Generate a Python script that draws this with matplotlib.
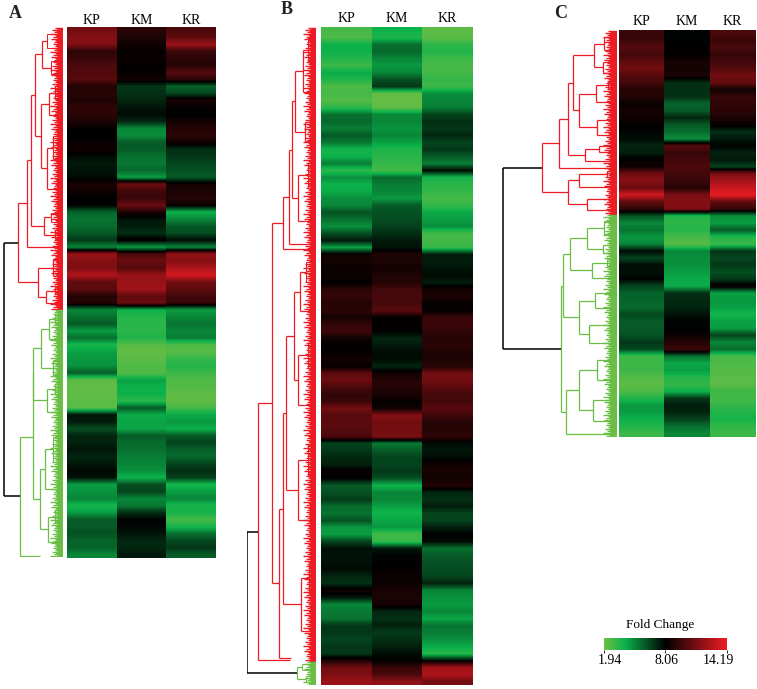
"""
Three fold change heatmaps (A, B, C) with their row dendrograms.
"""

import matplotlib
matplotlib.use('Agg')
import matplotlib.pyplot as plt
import numpy as np
from matplotlib.colors import LinearSegmentedColormap

W, H = 757, 689

SAMPLES = ['KP', 'KM', 'KR']
FC_MIN, FC_MID, FC_MAX = 1.94, 8.06, 14.19
KEY_LABELS = ['1.94', '8.06', '14.19']

RED = '#ed1c24'
GREEN = '#6abd45'

# fold change per row band, columns are KP, KM, KR
A_VALUES = [
    [11, 9.2, 10], [11.5, 8.8, 10.5], [11.3, 8.5, 12], [9.2, 8.2, 9.5], [9.5, 8.3, 9.2],
    [10, 8.2, 9], [10.2, 8.2, 10.3], [10.3, 8.6, 9.2], [9, 6.8, 5.8], [9.1, 7, 6.5],
    [8.8, 7.2, 8.7], [9.3, 7.6, 8.2], [9.2, 7.8, 8], [8.8, 7.2, 8.6], [8.2, 5, 9],
    [8, 4.8, 9.2], [8.3, 6, 8.5], [8.5, 6, 7], [7.8, 5.5, 6.8], [7.5, 5.3, 6.5],
    [7.6, 5.7, 6.2], [7.8, 4.5, 6], [8.7, 10.8, 8.6], [8.5, 9.8, 8.8], [8.1, 9.5, 9],
    [8, 10.8, 8.4], [5.8, 8.8, 4], [5.4, 7.6, 5], [5.6, 7.4, 6], [6, 7, 6.3],
    [6.8, 8.3, 7.8], [5, 4.5, 5], [12, 10, 11.8], [11.5, 10.8, 11.5], [11.3, 10.2, 12.5],
    [12.7, 12, 13.5], [10.5, 12, 11], [10.5, 12.2, 10.5], [9, 10.5, 9.8], [9, 10.8, 9.5],
    [5, 4, 4.5], [5.5, 3.5, 5], [6, 3.4, 5.4], [4.5, 3.4, 5], [5.5, 3.6, 5.2],
    [3.7, 2.4, 2.6], [4.4, 2.2, 2.4], [4.6, 2.3, 3.2], [4.7, 2.6, 3.5], [6, 2.5, 3],
    [2.3, 4.4, 2.6], [2.2, 4, 2.5], [2.2, 4, 2.3], [2.3, 3.3, 2.2], [2.4, 6, 2.8],
    [7.6, 4.2, 4.2], [7.4, 4.3, 4.6], [6.3, 4.3, 4], [7.2, 6, 6], [7.3, 5.6, 6.5],
    [7.6, 5.5, 5.8], [7.2, 5.2, 5.7], [7.5, 5, 6.5], [7.9, 4.8, 7], [7.6, 4, 6.6],
    [4.5, 6.3, 3.8], [4.7, 6.5, 4.5], [5, 5, 5], [3.8, 5.3, 3.8], [4.5, 7, 3.8],
    [6, 8, 2.8], [6, 7.9, 3.8], [6.2, 7.6, 5.5], [5.8, 7.2, 6.4], [5.8, 7.2, 6.8],
    [5, 7.5, 6],
]

B_VALUES = [
    [2.8, 4, 2.3], [2.6, 3.6, 2.3], [4, 5.5, 3.3], [4, 5.7, 3.6], [3.5, 5, 3],
    [3, 4.6, 2.8], [4.2, 5, 2.8], [3.6, 6.2, 3.2], [2.6, 6.8, 3], [2.8, 2.2, 4.8],
    [2.5, 2.1, 5], [3.3, 2.2, 5.2], [5.5, 5, 6.5], [5.7, 5, 7], [5.2, 4.7, 6.8],
    [6, 5, 7.2], [5.3, 4.4, 6.5], [3.8, 3.6, 6.8], [4, 3.4, 6], [5.2, 3.2, 5.2],
    [3.3, 2.8, 7.8], [4.8, 5.6, 3.8], [4, 5.2, 3.4], [4.2, 5, 3.2], [4.8, 4.6, 2.8],
    [5, 6, 3.2], [6.2, 6.2, 4.2], [5.5, 6.3, 4.5], [4.8, 6.6, 4.8], [6.3, 7, 2.9],
    [7.5, 7.5, 2.8], [4.4, 7.6, 3.2], [8.5, 8.9, 7.5], [8.6, 8.8, 7.4], [8.3, 8.6, 7.6],
    [8.4, 8.9, 7.8], [8.1, 9, 7.4], [9.2, 9.8, 8.6], [9.4, 9.9, 8.8], [9, 9.8, 8.2],
    [9.2, 10.4, 8.2], [8.6, 8.2, 9.5], [9.4, 8.2, 9.6], [9.6, 8, 9.3], [8.5, 7.2, 9],
    [8.1, 7.5, 9.2], [8.2, 7.8, 8.8], [8.6, 7.8, 8.9], [8.2, 7.2, 9], [10.5, 8.6, 11],
    [10.8, 9, 11], [10, 9, 10.4], [9.3, 8.7, 9.8], [9.6, 8.2, 9.8], [11, 8.5, 10.4],
    [10.3, 11.5, 9.7], [10.4, 11, 9], [10.3, 11, 9], [10, 11.2, 9.3], [6.5, 5.3, 7.8],
    [6.8, 6, 7.5], [7.2, 6.5, 7.8], [7.3, 6.5, 8.5], [8.3, 6.8, 8.7], [8, 6.2, 8.5],
    [6, 3.9, 9], [6.2, 5, 7.2], [6.7, 5, 7], [5.6, 4.4, 7.4], [5.4, 3.9, 6.5],
    [6.2, 4.3, 6.5], [4.6, 4.6, 7.4], [4.5, 2.8, 8], [6.5, 3.2, 7.8], [7.7, 7.5, 5.5],
    [7.6, 8, 6], [7.7, 8, 6.2], [7.8, 8.2, 6.3], [7.2, 8.3, 6.5], [7, 8.4, 7.3],
    [8.5, 8.7, 5], [7.5, 8.8, 4.8], [5, 8.6, 4.5], [5.3, 7.2, 5], [5.4, 7, 4.3],
    [6.8, 7.3, 5.4], [6.8, 6.7, 5.2], [6.5, 7, 4.8], [6.8, 7.3, 4.2], [6.8, 7.8, 3.4],
    [8.8, 8, 7.8], [11, 9.5, 12.2], [11.3, 10, 12.5], [12, 11.7, 11],
]

C_VALUES = [
    [9.5, 8, 10], [9.6, 8, 9.5], [10.3, 8.2, 10], [9.8, 8.1, 9.4], [10.5, 8.6, 9.8],
    [11, 8.6, 10.2], [10.3, 8.8, 11], [9.8, 7, 10.6], [9, 7, 8.5], [9, 7, 9.5],
    [8.3, 5.8, 9.3], [8.6, 6, 9.2], [8.5, 7.2, 8.8], [8.2, 6, 8.3], [7.9, 5.6, 7],
    [7.8, 4.8, 7.5], [7.2, 10.3, 8], [7.4, 9.5, 7.3], [8.2, 9.8, 7.5], [8.5, 10, 6.5],
    [11, 9.8, 11.3], [11.5, 9.5, 12.3], [10.8, 9, 13.2], [13.5, 11.2, 14], [10.5, 11.5, 10.5],
    [9.3, 11.3, 9.5], [6.2, 3.6, 4.8], [5, 3.3, 4.5], [5.4, 3.5, 6], [4.6, 2.8, 3.5],
    [5, 2.4, 3], [7.8, 5, 6.8], [6.5, 4.8, 6.5], [7.8, 4.8, 6.8], [7.7, 4.5, 6.3],
    [8, 4.2, 6.8], [6.5, 4.2, 8.5], [5.8, 7, 4.4], [5.8, 7.2, 4.6], [5.6, 7.2, 4.5],
    [6.4, 7.6, 3.8], [6, 8, 4.4], [6, 8, 4.5], [6.2, 8.4, 6.5], [6.8, 9, 5],
    [6.4, 9.6, 5.6], [3, 5.5, 2.8], [3, 4.2, 2.6], [3, 4.5, 2.5], [2.5, 3.5, 2.4],
    [2.3, 3.2, 2.3], [2.6, 4, 3], [3.6, 6.8, 2.8], [4.6, 7.4, 3.2], [4.5, 7.2, 3.6],
    [4, 6.5, 3.8], [3.6, 5.5, 3.2], [3, 5, 3],
]

# dendrograms: (distance, child, child) for a merge, (distance, genes) for a tip cluster
A_RED = (45,
         (36,
          (32,
           (28,
            (21, (16, 28), (12, 25)),
            (22, (14, (8, 25), (6, 20)), (16, (10, 45), (6, 38)))),
           (19, (12, 18), (8, 17))),
          (4, 7)),
         (25, (10, (6, 18), (4, 16)), (17, (8, 13), (6, 12))))
A_GREEN = (43,
           (30,
            (30,
             (22, (14, (8, 20), (6, 20)), (10, (6, 22), (4, 8))),
             (16, (8, 20), (5, 25))),
            (23, (18, (10, 50), (6, 30)), (15, (8, 25), (6, 26)))),
           (23, 2))

B_RED = (58,
         (44,
          (33,
           (27,
            (24,
             (21, (13, (8, 45), (6, 40)), (11, (6, 20), (6, 18))),
             (18, (8, 50), (6, 42))),
            (3, 4)),
           (2, 6)),
          (37,
           (33,
            (30,
             (22, (16, (10, 40), (6, 38)), (18, (8, 50), (6, 50))),
             (18, (8, 60), (6, 60))),
            (15, (7, 55), (5, 52))),
           (25, 2))),
         (26, 2))
B_GREEN = (19, (14, 12), (10, 12))

C_RED = (75,
         (58,
          (49,
           (44,
            (23, (13, (7, 14), (4, 12)), (14, (7, 11), (5, 11))),
            (38, (21, (9, 14), (5, 20)), (20, (6, 15), (4, 15)))),
           (32, (18, (6, 7), (5, 6)), (6, 12))),
          (4, 1)),
         (49, (38, (10, 12), (6, 13)), (30, (8, 12), (5, 9))))
C_GREEN = (56,
           (54,
            (47,
             (30, (13, (7, 14), (5, 12)), (14, (7, 10), (4, 5))),
             (25, (10, 15), (5, 15))),
            (38, (22, (7, 16), (5, 14)), (28, (7, 20), (4, 15)))),
           (51,
            (38, (20, (7, 20), (5, 20)), (24, (7, 20), (5, 21))),
            (4, 6)))

# how far single genes stick out of a tip cluster
TIP_DEPTHS = [3, 1, 6, 2, 4, 1, 8, 3, 2, 5, 1, 7, 3, 2, 4, 1, 5, 2]

fold_cmap = LinearSegmentedColormap.from_list(
    'fold', [(0.0, '#6cbe45'), (0.17, '#0cb14b'), (0.5, '#000000'), (1.0, RED)])


def px_axes(fig, left, top, right, bottom):
    """Axes placed by pixel edges of the reference."""
    ax = fig.add_axes([left / W, 1 - bottom / H, (right - left) / W, (bottom - top) / H])
    return ax


def draw_node(ax, node, y0, color, mass):
    """Draw a subtree from row y0 down, returns its y, distance and next free row."""
    if len(node) == 2:
        dist, genes = node
        for i in range(genes):
            depth = mass + TIP_DEPTHS[(i + int(y0)) % len(TIP_DEPTHS)]
            ax.hlines(y0 + i + 0.5, 0, depth, color=color, lw=1.0)
        y_mid = y0 + genes / 2
        if genes > 3:
            ax.vlines(dist, y0 + genes * 0.25, y0 + genes * 0.75, color=color, lw=0.75)
            ax.hlines([y0 + genes * 0.25, y0 + genes * 0.75], 0, dist, color=color, lw=0.75)
        return y_mid, dist, y0 + genes

    dist, first, second = node
    y1, d1, next_y = draw_node(ax, first, y0, color, mass)
    y2, d2, next_y = draw_node(ax, second, next_y, color, mass)
    ax.vlines(dist, y1, y2, color=color, lw=0.9)
    ax.hlines(y1, d1, dist, color=color, lw=0.9)
    ax.hlines(y2, d2, dist, color=color, lw=0.9)
    return (y1 + y2) / 2, dist, next_y


def draw_dendrogram(fig, box, red_tree, green_tree, root_dist, mass):
    """Red and green subtrees joined by a black root."""
    left, top, right, bottom = box
    ax = px_axes(fig, left, top, right, bottom)
    y1, d1, next_y = draw_node(ax, red_tree, 0, RED, mass)
    y2, d2, next_y = draw_node(ax, green_tree, next_y, GREEN, mass)
    ax.vlines(root_dist, y1, y2, color='black', lw=1.1)
    ax.hlines(y1, d1, root_dist, color='black', lw=1.1)
    ax.hlines(y2, d2, root_dist, color='black', lw=1.1)
    ax.set_xlim(right - left, 0)
    ax.set_ylim(bottom - top, 0)
    ax.axis('off')


def draw_heatmap(fig, box, values, label_pad):
    """One heatmap with the sample names on top, columns smoothed only along the rows."""
    ax = px_axes(fig, *box)
    values = np.array(values)
    n_rows = len(values)
    for col in range(values.shape[1]):
        im = ax.imshow(values[:, [col]], cmap=fold_cmap, vmin=FC_MIN, vmax=FC_MAX, aspect='auto',
                       interpolation='bilinear', extent=(col - 0.5, col + 0.5, n_rows - 0.5, -0.5))
    ax.set_xlim(-0.5, values.shape[1] - 0.5)
    ax.set_ylim(n_rows - 0.5, -0.5)
    ax.xaxis.tick_top()
    ax.set_xticks(range(len(SAMPLES)))
    ax.set_xticklabels(SAMPLES, fontsize=10, family='Liberation Serif')
    ax.set_yticks([])
    ax.tick_params(axis='x', length=0, pad=label_pad)
    for spine in ax.spines.values():
        spine.set_visible(False)
    return im


fig = plt.figure(figsize=(W / 100, H / 100), dpi=100, facecolor='white')

draw_dendrogram(fig, (3, 27, 63, 557), A_RED, A_GREEN, 59.5, 5)
im = draw_heatmap(fig, (67, 27, 216, 558), A_VALUES, 0)

draw_dendrogram(fig, (247, 27, 316, 685), B_RED, B_GREEN, 68.5, 5)
draw_heatmap(fig, (321, 27, 473, 685), B_VALUES, 1.5)

draw_dendrogram(fig, (502, 30, 617, 437), C_RED, C_GREEN, 114.5, 6)
draw_heatmap(fig, (619, 30, 755, 437), C_VALUES, 1.5)

# panel letters
for label, x, y in [('A', 15, 13), ('B', 287, 9), ('C', 561, 13)]:
    fig.text(x / W, 1 - y / H, label, fontsize=13, fontweight='bold',
             family='Liberation Serif', ha='center', va='center', color='#222222')

# colour key
cax = px_axes(fig, 604, 638, 727, 650)
cbar = fig.colorbar(im, cax=cax, orientation='horizontal', ticks=[FC_MIN, FC_MID, FC_MAX])
cbar.outline.set_visible(False)
cbar.set_ticklabels(['', '', ''])
cbar.ax.tick_params(length=2, width=0.6, pad=1.5)
for label, value, shift in zip(KEY_LABELS, [FC_MIN, FC_MID, FC_MAX], [0.6, 0.1, -0.9]):
    cax.text(value + shift, -0.85, label, fontsize=10, family='Liberation Serif',
             ha='center', va='center', transform=cax.get_xaxis_transform())
fig.text(660 / W, 1 - 625 / H, 'Fold Change', fontsize=9.5, family='Liberation Serif',
         ha='center', va='center')

fig.savefig('out.png', dpi=100)
plt.close(fig)
